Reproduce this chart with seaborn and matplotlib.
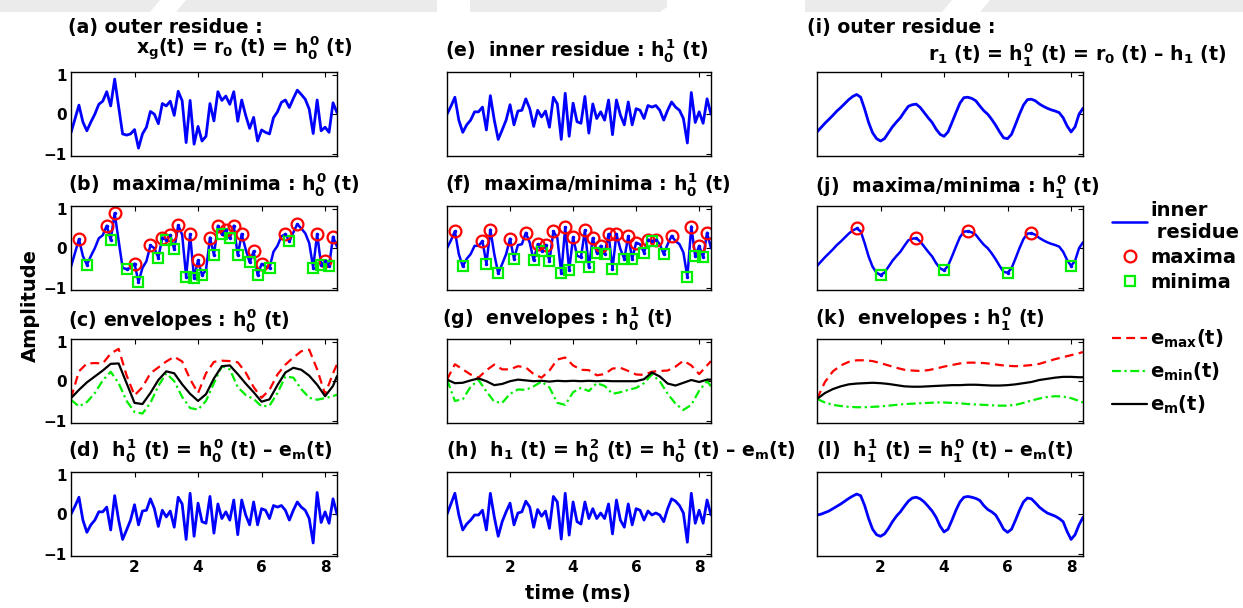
import numpy as np
import pandas as pd
import matplotlib
matplotlib.use("Agg")
import matplotlib.pyplot as plt
from matplotlib.patches import Polygon
import seaborn as sns

# ---------------------------------------------------------------- data
FS_MS = 0.125          # sample spacing (ms)
t = np.arange(68) * FS_MS

# outer residue r0(t) = h_0^0(t)
r0 = [-0.47, -0.12, 0.23, -0.20, -0.42, -0.20, 0.00, 0.25, 0.33, 0.57,
      0.21, 0.89, 0.19, -0.50, -0.53, -0.50, -0.39, -0.86, -0.50, -0.33,
      0.07, 0.00, -0.24, 0.27, 0.21, 0.33, -0.03, 0.58, 0.34, -0.72,
      0.35, -0.76, -0.31, -0.68, -0.56, 0.27, -0.17, 0.57, 0.35, 0.46,
      0.25, 0.57, -0.18, 0.36, -0.03, -0.36, -0.08, -0.68, -0.40, -0.46,
      -0.50, -0.09, 0.06, 0.30, 0.36, 0.17, 0.40, 0.61, 0.50, 0.38,
      0.13, -0.49, 0.36, -0.42, -0.33, -0.46, 0.29, 0.04]

# inner residue h_0^1(t)
h01 = [0.00, 0.20, 0.43, -0.15, -0.46, -0.27, -0.15, 0.06, 0.06, 0.18,
       -0.40, 0.47, -0.15, -0.64, -0.40, -0.15, 0.24, -0.27, 0.08, 0.10,
       0.39, 0.14, -0.31, 0.10, -0.07, 0.08, -0.33, 0.43, 0.26, -0.64,
       0.53, -0.56, 0.28, -0.19, -0.23, 0.45, -0.48, 0.26, -0.11, 0.06,
       -0.15, 0.36, -0.52, 0.36, -0.02, -0.27, 0.31, -0.27, 0.14, 0.10,
       -0.11, 0.22, 0.18, 0.22, 0.10, -0.15, 0.10, 0.31, 0.18, 0.10,
       -0.11, -0.73, 0.55, -0.21, 0.06, -0.23, 0.39, 0.00]

# h_1(t) = h_0^2(t)
h1 = [0.00, 0.26, 0.53, -0.02, -0.40, -0.25, -0.15, -0.02, -0.02, 0.10,
      -0.40, 0.53, -0.07, -0.56, -0.19, 0.06, 0.28, -0.27, 0.03, 0.06,
      0.33, 0.18, -0.33, 0.12, -0.05, 0.08, -0.36, 0.45, 0.31, -0.63,
      0.53, -0.53, 0.31, -0.19, -0.25, 0.31, -0.11, 0.14, -0.11, 0.03,
      -0.11, 0.26, -0.50, 0.36, -0.15, -0.33, 0.26, -0.27, 0.14, 0.10,
      -0.15, 0.08, -0.02, 0.03, -0.02, -0.19, 0.14, 0.39, 0.33, 0.22,
      0.03, -0.71, 0.53, -0.23, 0.10, -0.23, 0.36, -0.02]

# outer residue r1(t) = h_1^0(t)
r1 = [-0.45, -0.34, -0.23, -0.13, -0.03, 0.08, 0.17, 0.27, 0.37, 0.45,
      0.50, 0.43, 0.13, -0.21, -0.47, -0.62, -0.68, -0.62, -0.47, -0.32,
      -0.20, -0.09, 0.06, 0.20, 0.24, 0.255, 0.17, 0.04, -0.09, -0.21,
      -0.38, -0.51, -0.56, -0.45, -0.21, 0.04, 0.28, 0.42, 0.43, 0.40,
      0.34, 0.21, 0.09, 0.00, -0.13, -0.28, -0.45, -0.60, -0.62, -0.51,
      -0.26, 0.00, 0.23, 0.37, 0.38, 0.34, 0.26, 0.20, 0.15, 0.11,
      0.08, 0.04, -0.09, -0.30, -0.45, -0.32, 0.00, 0.15]

# h_1^1(t)
h11 = [-0.02, 0.00, 0.04, 0.08, 0.14, 0.20, 0.26, 0.33, 0.40, 0.46,
       0.51, 0.47, 0.22, -0.11, -0.38, -0.52, -0.56, -0.50, -0.36, -0.19,
       -0.05, 0.06, 0.20, 0.33, 0.41, 0.43, 0.39, 0.31, 0.20, 0.08,
       -0.08, -0.30, -0.45, -0.38, -0.15, 0.10, 0.31, 0.43, 0.45, 0.43,
       0.40, 0.35, 0.22, 0.12, 0.06, -0.02, -0.19, -0.38, -0.46, -0.38,
       -0.15, 0.10, 0.31, 0.41, 0.39, 0.29, 0.18, 0.10, 0.03, -0.01,
       -0.05, -0.11, -0.19, -0.44, -0.64, -0.52, -0.27, -0.08]

# envelopes, sampled every 0.25 ms
t_env = np.append(np.arange(0, 8.3, 0.25), 8.375)

emax_c = [-0.43, 0.25, 0.45, 0.46, 0.45, 0.70, 0.82, 0.15, -0.36, -0.15,
          0.20, 0.35, 0.50, 0.62, 0.50, 0.05, -0.30, 0.20, 0.49, 0.52,
          0.51, 0.48, 0.22, -0.15, -0.42, -0.22, 0.17, 0.42, 0.60, 0.76,
          0.80, 0.30, -0.33, 0.20, 0.43]
emin_c = [-0.47, -0.64, -0.53, -0.30, 0.02, 0.24, -0.05, -0.50, -0.78, -0.82,
          -0.55, -0.12, 0.20, 0.00, -0.40, -0.68, -0.72, -0.50, -0.05, 0.38,
          0.30, -0.15, -0.35, -0.45, -0.64, -0.62, -0.30, 0.12, 0.09, -0.20,
          -0.42, -0.47, -0.43, -0.38, -0.34]
em_c = [-0.43, -0.22, -0.03, 0.12, 0.27, 0.44, 0.45, -0.05, -0.55, -0.58,
        -0.30, 0.03, 0.25, 0.20, -0.08, -0.32, -0.50, -0.33, 0.07, 0.38,
        0.40, 0.18, -0.06, -0.28, -0.52, -0.46, -0.10, 0.22, 0.34, 0.29,
        0.14, -0.09, -0.38, -0.12, 0.13]

emax_g = [0.04, 0.43, 0.30, 0.17, 0.09, 0.28, 0.42, 0.30, 0.30, 0.38,
          0.35, 0.18, 0.09, 0.27, 0.55, 0.60, 0.40, 0.29, 0.28, 0.15,
          0.18, 0.32, 0.34, 0.26, 0.17, 0.16, 0.24, 0.26, 0.27, 0.37,
          0.52, 0.40, 0.18, 0.40, 0.51]
emin_g = [0.04, -0.50, -0.46, -0.14, 0.03, -0.26, -0.52, -0.55, -0.32, -0.21,
          -0.22, -0.13, -0.01, -0.16, -0.55, -0.60, -0.28, -0.17, -0.25, -0.05,
          -0.12, -0.32, -0.28, -0.22, -0.17, -0.05, 0.17, 0.00, -0.32, -0.57,
          -0.73, -0.60, -0.24, 0.00, -0.13]
em_g = [0.04, -0.05, -0.04, 0.02, 0.07, 0.00, -0.10, -0.07, 0.00, 0.04,
        0.02, 0.00, 0.01, -0.01, 0.01, 0.00, 0.01, 0.00, 0.01, 0.00,
        0.01, 0.00, 0.00, 0.00, 0.00, 0.05, 0.22, 0.12, -0.06, -0.11,
        -0.04, 0.03, -0.02, 0.04, 0.04]

emax_k = [-0.45, -0.02, 0.25, 0.40, 0.49, 0.53, 0.53, 0.51, 0.46, 0.40,
          0.34, 0.29, 0.27, 0.26, 0.28, 0.32, 0.37, 0.41, 0.45, 0.47,
          0.47, 0.46, 0.44, 0.41, 0.39, 0.38, 0.39, 0.41, 0.44, 0.50,
          0.56, 0.61, 0.66, 0.71, 0.74]
emin_k = [-0.45, -0.54, -0.60, -0.63, -0.65, -0.66, -0.66, -0.65, -0.64, -0.62,
          -0.60, -0.58, -0.57, -0.56, -0.55, -0.54, -0.54, -0.55, -0.56, -0.58,
          -0.59, -0.60, -0.61, -0.62, -0.62, -0.60, -0.55, -0.49, -0.44, -0.40,
          -0.38, -0.39, -0.43, -0.50, -0.54]
em_k = [-0.45, -0.30, -0.20, -0.13, -0.08, -0.06, -0.05, -0.04, -0.05, -0.07,
        -0.10, -0.13, -0.14, -0.14, -0.13, -0.12, -0.11, -0.10, -0.10, -0.09,
        -0.09, -0.10, -0.11, -0.11, -0.10, -0.08, -0.05, -0.02, 0.03, 0.06,
        0.09, 0.11, 0.11, 0.10, 0.10]

x_ticks = [2, 4, 6, 8]
y_ticks = [-1, 0, 1]

# ---------------------------------------------------------------- style
sns.set_theme(style="white")
FONT = "DejaVu Sans"
plt.rcParams.update({
    "font.family": [FONT],
    "font.weight": "bold",
    "text.color": "black",
    "mathtext.fontset": "custom",
    "mathtext.rm": f"{FONT}:bold",
    "mathtext.it": f"{FONT}:bold",
    "mathtext.bf": f"{FONT}:bold",
    "mathtext.sf": f"{FONT}:bold",
    "axes.edgecolor": "black",
    "axes.linewidth": 1.0,
    "xtick.color": "black",
    "ytick.color": "black",
    "xtick.labelcolor": "black",
    "ytick.labelcolor": "black",
    "legend.labelcolor": "black",
})

BLUE, RED, GREEN, BLACK = "#0000ff", "#ff0000", "#00ee00", "#000000"
DASH = (0, (4.0, 2.4))
DASHDOT = (0, (4.0, 1.6, 1.0, 1.6))

W, H = 1243, 608
fig = plt.figure(figsize=(W / 100, H / 100), dpi=100)

# faint grey band along the top edge of the page
band = [[(0, 0), (160, 0), (150, 12), (0, 12)],
        [(186, 0), (437, 0), (437, 12), (176, 12)],
        [(470, 0), (667, 0), (667, 7), (660, 12), (470, 12)],
        [(805, 0), (952, 0), (942, 12), (805, 12)],
        [(990, 0), (1243, 0), (1243, 12), (980, 12)]]
for poly in band:
    fig.patches.append(Polygon([(x / W, 1 - y / H) for x, y in poly],
                               closed=True, transform=fig.transFigure,
                               facecolor="#ebebeb", edgecolor="none",
                               zorder=0))

col_left = [71, 447, 817]
col_width = [266, 264, 266]
row_top = [72, 206, 339, 472]
AX_H = 84


def make_axes(col, row):
    l, w, top = col_left[col], col_width[col], row_top[row]
    ax = fig.add_axes([l / W, 1 - (top + AX_H) / H, w / W, AX_H / H])
    ax.set_xlim(0, 8.375)
    ax.set_ylim(-1.06, 1.07)
    ax.set_xticks(x_ticks)
    ax.set_yticks(y_ticks)
    ax.tick_params(direction="in", top=True, right=True, length=3.5,
                   width=0.8, labelsize=11, pad=3)
    for s in ax.spines.values():
        s.set_visible(True)
        s.set_color("black")
        s.set_linewidth(1.0)
    if row != 3:
        ax.set_xticklabels([])
    if col != 0:
        ax.set_yticklabels([])
    for lab in ax.get_xticklabels() + ax.get_yticklabels():
        lab.set_fontweight("bold")
    ax.set_xlabel("")
    ax.set_ylabel("")
    return ax


def line(ax, x, y, color, lw=2.0, ls="-"):
    df = pd.DataFrame({"t": x, "v": y})
    sns.lineplot(data=df, x="t", y="v", ax=ax, color=color, lw=lw,
                 sort=False, estimator=None, legend=False)
    ln = ax.lines[-1]
    ln.set_linestyle(ls)
    ax.set_xlabel("")
    ax.set_ylabel("")
    return ln


def extrema(y):
    y = np.asarray(y)
    mx = [i for i in range(1, len(y) - 1) if y[i] > y[i - 1] and y[i] > y[i + 1]]
    mn = [i for i in range(1, len(y) - 1) if y[i] < y[i - 1] and y[i] < y[i + 1]]
    return mx, mn


def marked(ax, x, y):
    x, y = np.asarray(x), np.asarray(y)
    ln = line(ax, x, y, BLUE, lw=1.8)
    mx, mn = extrema(y)
    hmax, = ax.plot(x[mx], y[mx], ls="none", marker="o", ms=8.5, mfc="none",
                    mec=RED, mew=1.6)
    hmin, = ax.plot(x[mn], y[mn], ls="none", marker="s", ms=6.5, mfc="none",
                    mec=GREEN, mew=1.6)
    ax.plot(x[mx + mn], y[mx + mn], ls="none", marker=".", ms=3, color=BLUE)
    return ln, hmax, hmin


def envelopes(ax, emax, emin, em):
    a = line(ax, t_env, emax, RED, lw=1.6, ls=DASH)
    b = line(ax, t_env, emin, GREEN, lw=1.6, ls=DASHDOT)
    c = line(ax, t_env, em, BLACK, lw=1.6)
    return a, b, c


# column 1 : first sifting of r0
ax = make_axes(0, 0); line(ax, t, r0, BLUE)
ax = make_axes(0, 1); marked(ax, t, r0)
ax = make_axes(0, 2); envelopes(ax, emax_c, emin_c, em_c)
ax = make_axes(0, 3); line(ax, t, h01, BLUE)

# column 2 : second sifting
ax = make_axes(1, 0); line(ax, t, h01, BLUE)
ax = make_axes(1, 1); marked(ax, t, h01)
ax = make_axes(1, 2); envelopes(ax, emax_g, emin_g, em_g)
ax = make_axes(1, 3); line(ax, t, h1, BLUE)

# column 3 : sifting of the new residue r1
ax = make_axes(2, 0); line(ax, t, r1, BLUE)
ax = make_axes(2, 1); h_line, h_max, h_min = marked(ax, t, r1)
ax = make_axes(2, 2); e_max, e_min, e_m = envelopes(ax, emax_k, emin_k, em_k)
ax = make_axes(2, 3); line(ax, t, h11, BLUE)

# ---------------------------------------------------------------- titles
TS = 13.6


def ftext(x, y, s, **kw):
    fig.text(x / W, 1 - y / H, s, fontsize=kw.pop("fontsize", TS),
             fontweight="bold", color="black", va=kw.pop("va", "baseline"),
             ha=kw.pop("ha", "left"), **kw)


ftext(68, 33, "(a) outer residue :")
ftext(136, 55, r"$x_g$(t) = $r_0$ (t) = $h_0^0$ (t)")
ftext(68, 191, r"(b)  maxima/minima : $h_0^0$ (t)")
ftext(68, 326, r"(c) envelopes : $h_0^0$ (t)")
ftext(68, 456, r"(d)  $h_0^1$ (t) = $h_0^0$ (t) – $e_m$(t)")

ftext(445, 56, r"(e)  inner residue : $h_0^1$ (t)")
ftext(445, 191, r"(f)  maxima/minima : $h_0^1$ (t)")
ftext(442, 325, r"(g)  envelopes : $h_0^1$ (t)")
ftext(446, 457, r"(h)  $h_1$ (t) = $h_0^2$ (t) = $h_0^1$ (t) – $e_m$(t)")

ftext(807, 33, "(i) outer residue :")
ftext(928, 60, r"$r_1$ (t) = $h_1^0$ (t) = $r_0$ (t) – $h_1$ (t)")
ftext(815, 192, r"(j)  maxima/minima : $h_1^0$ (t)")
ftext(815, 325, r"(k)  envelopes : $h_1^0$ (t)")
ftext(816, 457, r"(l)  $h_1^1$ (t) = $h_1^0$ (t) – $e_m$(t)")

ftext(30, 305, "Amplitude", rotation=90, va="center", ha="center",
      fontsize=14)
ftext(578, 593, "time (ms)", va="center", ha="center", fontsize=14)

# ---------------------------------------------------------------- legends
LFS = 14
leg1 = fig.legend([h_line, h_max, h_min], ["inner\n residue", "maxima", "minima"],
                  loc="upper left", bbox_to_anchor=(1112 / W, 1 - 201 / H),
                  frameon=False, fontsize=LFS, handlelength=1.8,
                  handletextpad=0.15, labelspacing=0.3, borderpad=0,
                  borderaxespad=0)
leg2 = fig.legend([e_max, e_min, e_m],
                  [r"$e_{max}$(t)", r"$e_{min}$(t)", r"$e_m$(t)"],
                  loc="upper left", bbox_to_anchor=(1112 / W, 1 - 328 / H),
                  frameon=False, fontsize=LFS, handlelength=1.8,
                  handletextpad=0.15, labelspacing=0.55, borderpad=0,
                  borderaxespad=0)
for lg in (leg1, leg2):
    for txt in lg.get_texts():
        txt.set_fontweight("bold")
        txt.set_color("black")

fig.savefig("out.png", dpi=100, facecolor="white")
